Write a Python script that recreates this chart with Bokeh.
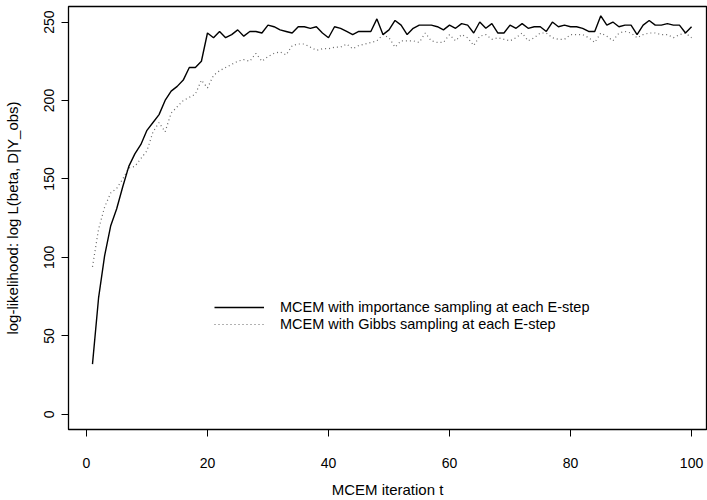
from bokeh.plotting import figure
from bokeh.models import Range1d, FixedTicker, Legend, LegendItem
from bokeh.embed import file_html
from bokeh.resources import INLINE

iterations = list(range(1, 101))

importance_ll = [32, 74, 101, 120, 131, 145, 158, 166, 172, 181,
                 186, 191, 200, 206, 209, 213, 221, 221, 225, 243,
                 240, 244, 240, 242, 245, 241, 244, 244, 243, 248,
                 247, 245, 244, 243, 247, 247, 246, 247, 243, 240,
                 247, 246, 244, 242, 244, 244, 244, 252, 242, 245,
                 251, 248, 242, 246, 248, 248, 248, 247, 245, 248,
                 246, 249, 248, 243, 250, 246, 249, 243, 243, 248,
                 246, 249, 246, 247, 247, 244, 250, 247, 248, 247,
                 247, 246, 244, 244, 254, 248, 250, 247, 248, 248,
                 242, 248, 251, 248, 248, 249, 248, 248, 243, 247]

gibbs_ll = [94, 118, 132, 141, 144, 150, 157, 158, 163, 168,
            180, 186, 180, 192, 196, 200, 202, 204, 213, 208,
            216, 219, 221, 223, 225, 226, 225, 230, 225, 228,
            230, 231, 229, 235, 236, 236, 234, 232, 233, 233,
            234, 234, 236, 233, 235, 236, 237, 238, 242, 240,
            234, 238, 238, 238, 237, 243, 238, 237, 237, 242,
            238, 242, 240, 235, 241, 242, 239, 240, 239, 238,
            240, 243, 238, 240, 243, 243, 240, 239, 239, 242,
            242, 242, 240, 237, 243, 241, 238, 243, 244, 243,
            240, 242, 243, 243, 242, 242, 240, 242, 243, 240]

x_ticks = [0, 20, 40, 60, 80, 100]
y_ticks = [0, 50, 100, 150, 200, 250]

label_importance = "MCEM with importance sampling at each E-step"
label_gibbs = "MCEM with Gibbs sampling at each E-step"

FONT = "Liberation Sans"

p = figure(width=707, height=500, output_backend="svg", toolbar_location=None,
           x_range=Range1d(-2.965, 102.47), y_range=Range1d(-9.66, 259.9),
           min_border_left=66, min_border_right=1, min_border_top=6,
           min_border_bottom=67)

p.grid.visible = False
p.background_fill_color = "white"
p.border_fill_color = "white"
p.outline_line_color = "black"
p.outline_line_width = 1.3

r1 = p.line(iterations, importance_ll, line_color="black", line_width=1.4)
r2 = p.line(iterations, gibbs_ll, line_color="black", line_alpha=0.6,
            line_width=1.2, line_dash="1 3")

for ax in (p.xaxis[0], p.yaxis[0]):
    ax.axis_line_color = None
    ax.major_tick_out = 7
    ax.major_tick_in = 0
    ax.major_tick_line_color = "black"
    ax.minor_tick_line_color = None
    ax.major_label_text_font = FONT
    ax.major_label_text_font_size = "14px"
    ax.major_label_text_color = "black"
    ax.axis_label_text_font = FONT
    ax.axis_label_text_font_size = "15px"
    ax.axis_label_text_font_style = "normal"
    ax.axis_label_text_color = "black"

p.xaxis[0].ticker = FixedTicker(ticks=x_ticks)
p.yaxis[0].ticker = FixedTicker(ticks=y_ticks)
p.xaxis[0].axis_label = "MCEM iteration t"
p.yaxis[0].axis_label = "log-likelihood: log L(beta, D|Y_obs)"
p.xaxis[0].major_label_standoff = 21
p.xaxis[0].axis_label_standoff = 10
p.yaxis[0].major_label_orientation = "vertical"
p.yaxis[0].major_label_standoff = 7
p.yaxis[0].axis_label_standoff = 21


def make_legend(label, renderer, y_offset):
    return Legend(items=[LegendItem(label=label, renderers=[renderer])],
                  location=(146, y_offset), orientation="vertical",
                  padding=0, margin=0, spacing=0,
                  glyph_width=50, glyph_height=14, label_height=14,
                  label_standoff=16,
                  label_text_font=FONT, label_text_font_size="14.5px",
                  label_text_color="black", label_text_baseline="middle",
                  border_line_color=None, background_fill_alpha=0)


p.add_layout(make_legend(label_importance, r1, 114), "center")
p.add_layout(make_legend(label_gibbs, r2, 97), "center")

open("out.html", "w").write(file_html(p, INLINE))
